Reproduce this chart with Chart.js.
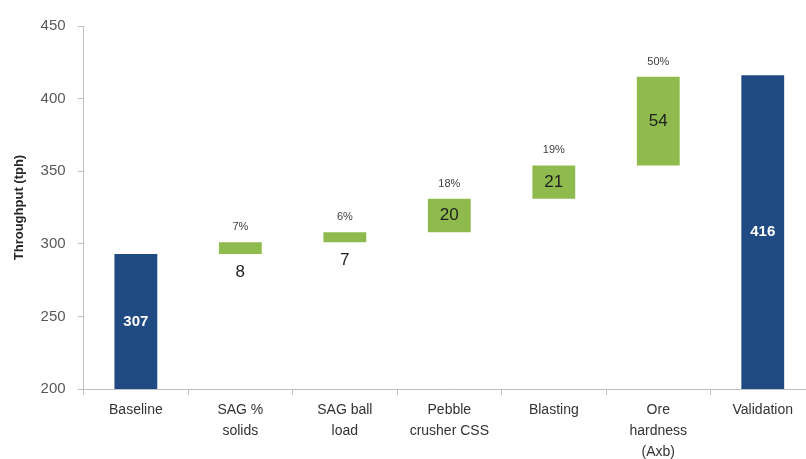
<!DOCTYPE html>
<html>
<head>
<meta charset="utf-8">
<script src="https://cdn.jsdelivr.net/npm/chart.js@4"></script>
<style>
  html, body { margin: 0; padding: 0; background: #fff; overflow: hidden; }
  #wrap { position: relative; width: 815px; height: 468px; }
</style>
</head>
<body>
<div id="wrap"><canvas id="grafico"></canvas></div>
<script>
// valores
const categorias = [['Baseline'], ['SAG %', 'solids'], ['SAG ball', 'load'], ['Pebble', 'crusher CSS'], ['Blasting'], ['Ore', 'hardness', '(Axb)'], ['Validation']];
const inicioBarra = [200, 293, 301, 308, 331, 354, 200];
const finBarra = [293, 301, 308, 331, 354, 415, 416];
const etiquetasValor = ['307', '8', '7', '20', '21', '54', '416'];
const etiquetasPct = ['', '7%', '6%', '18%', '19%', '50%', ''];
const ticksY = [200, 250, 300, 350, 400, 450];

const AZUL = '#1f4a82';
const VERDE = '#8fbb4e';
const ultimo = categorias.length - 1;
const esTotal = i => i === 0 || i === ultimo;

const etiquetas = {
  id: 'etiquetas',
  afterDatasetsDraw(chart) {
    const ctx = chart.ctx;
    const barras = chart.getDatasetMeta(0).data;
    ctx.save();
    ctx.textAlign = 'center';
    ctx.textBaseline = 'middle';
    barras.forEach((b, i) => {
      const arriba = Math.min(b.y, b.base);
      const abajo = Math.max(b.y, b.base);
      if (esTotal(i)) {
        ctx.fillStyle = '#ffffff';
        ctx.font = 'bold 15px "Liberation Sans", Arial, sans-serif';
        ctx.fillText(etiquetasValor[i], b.x, (arriba + abajo) / 2);
        return;
      }
      ctx.font = '17px "Liberation Sans", Arial, sans-serif';
      ctx.fillStyle = '#1e1e1e';
      if (abajo - arriba < 22) {
        ctx.fillText(etiquetasValor[i], b.x, abajo + 18);
      } else {
        ctx.fillText(etiquetasValor[i], b.x, (arriba + abajo) / 2);
      }
      ctx.font = '11px "Liberation Sans", Arial, sans-serif';
      ctx.fillStyle = '#404040';
      ctx.fillText(etiquetasPct[i], b.x, arriba - 15);
    });
    ctx.restore();
  }
};

new Chart(document.getElementById('grafico').getContext('2d'), {
  type: 'bar',
  data: {
    labels: categorias,
    datasets: [{
      data: inicioBarra.map((v, i) => [v, finBarra[i]]),
      backgroundColor: categorias.map((c, i) => esTotal(i) ? AZUL : VERDE),
      borderWidth: 0,
      barPercentage: 0.41,
      categoryPercentage: 1
    }]
  },
  options: {
    responsive: true,
    maintainAspectRatio: false,
    animation: false,
    layout: { padding: { left: 12, right: 0, top: 26, bottom: 0 } },
    plugins: { legend: { display: false }, tooltip: { enabled: false } },
    scales: {
      x: {
        grid: { display: true, drawOnChartArea: false, drawTicks: true, tickLength: 6, color: '#bfbfbf' },
        border: { color: '#bfbfbf' },
        ticks: {
          color: '#333333',
          padding: 5,
          maxRotation: 0,
          autoSkip: false,
          font: { family: '"Liberation Sans", Arial, sans-serif', size: 14, lineHeight: 1.5 }
        }
      },
      y: {
        min: ticksY[0],
        max: ticksY[ticksY.length - 1],
        afterBuildTicks: axis => { axis.ticks = ticksY.map(v => ({ value: v })); },
        grid: { display: true, drawOnChartArea: false, drawTicks: true, tickLength: 6, color: '#bfbfbf' },
        border: { color: '#bfbfbf' },
        ticks: {
          color: '#595959',
          padding: 12,
          font: { family: '"Liberation Sans", Arial, sans-serif', size: 15 }
        },
        title: {
          display: true,
          text: 'Throughput (tph)',
          color: '#262626',
          padding: { top: 0, bottom: 1 },
          font: { family: '"Liberation Sans", Arial, sans-serif', size: 13, weight: 'bold' }
        }
      }
    }
  },
  plugins: [etiquetas]
});
</script>
</body>
</html>
